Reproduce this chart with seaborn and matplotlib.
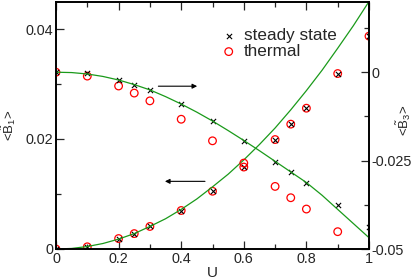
import matplotlib
matplotlib.use("Agg")
import numpy as np
import pandas as pd
import matplotlib.pyplot as plt
import seaborn as sns
from matplotlib.ticker import MultipleLocator, FuncFormatter

# values
u_steady = [0, 0.1, 0.2, 0.25, 0.3, 0.4, 0.5, 0.6, 0.7, 0.75, 0.8, 0.9, 1.0]
b1_steady = [0, 0.0004, 0.0019, 0.0028, 0.0041, 0.0070, 0.0105, 0.0149,
             0.0199, 0.0227, 0.0256, 0.0319, 0.0387]
b1_thermal = [0, 0.0004, 0.0019, 0.0028, 0.0041, 0.0070, 0.0105, 0.0149,
              0.0199, 0.0227, 0.0256, 0.0319, 0.0387]
b3_steady = [0, -0.0003, -0.0023, -0.0036, -0.0051, -0.0091, -0.0138, -0.0194,
             -0.0253, -0.0283, -0.0313, -0.0376, -0.0439]
u_thermal3 = [0, 0.1, 0.2, 0.25, 0.3, 0.4, 0.5, 0.6, 0.7, 0.75, 0.8, 0.9]
b3_thermal = [0, -0.0011, -0.0039, -0.0059, -0.0081, -0.0133, -0.0194, -0.0257,
              -0.0323, -0.0355, -0.0387, -0.0451]

# green reference curves
u_curve = [0, 0.05, 0.1, 0.15, 0.2, 0.25, 0.3, 0.35, 0.4, 0.45, 0.5,
           0.55, 0.6, 0.65, 0.7, 0.75, 0.8, 0.85, 0.9, 0.95, 1.0]
b1_curve = [0, 0.0001, 0.00045, 0.001, 0.0018, 0.0028, 0.0041, 0.0055, 0.0072,
            0.0091, 0.0113, 0.0136, 0.0162, 0.019, 0.022, 0.0253, 0.0288,
            0.0325, 0.0365, 0.0406, 0.045]
b3_curve = [0, -0.0001, -0.0005, -0.0012, -0.0022, -0.0035, -0.0050, -0.0069,
            -0.0090, -0.0113, -0.0138, -0.0165, -0.0193, -0.0222, -0.0252,
            -0.0282, -0.0312, -0.0348, -0.0388, -0.0428, -0.0468]

sns.set_style("ticks")
plt.rcParams['font.family'] = ['Liberation Sans', 'DejaVu Sans']
plt.rcParams['mathtext.fontset'] = 'custom'
plt.rcParams['mathtext.rm'] = 'Liberation Sans'
plt.rcParams['mathtext.it'] = 'Liberation Sans:italic'
plt.rcParams['axes.unicode_minus'] = False

fig = plt.figure(figsize=(4.15, 2.79), dpi=100)
ax = fig.add_axes([56 / 415, 1 - 249 / 279, 313 / 415, 247.5 / 279])
ax2 = ax.twinx()

green = "#1a9a1a"
sns.lineplot(x=u_curve, y=b1_curve, ax=ax, color=green, lw=0.9)
sns.lineplot(x=u_curve, y=b3_curve, ax=ax2, color=green, lw=0.9)

circ = dict(marker="o", s=30, facecolors="none", edgecolors="red", linewidths=0.9)
crs = dict(marker="x", s=14, color="black", linewidths=0.8)

sns.scatterplot(x=u_steady, y=b1_thermal, ax=ax, **circ)
sns.scatterplot(x=u_steady, y=b1_steady, ax=ax, **crs)
sns.scatterplot(x=u_thermal3, y=b3_thermal, ax=ax2, label="thermal", **circ)
sns.scatterplot(x=u_steady, y=b3_steady, ax=ax2, label="steady state", **crs)

ax.set_xlim(0, 1)
ax.set_ylim(0, 0.045)
ax2.set_ylim(-0.05, 0.02)

fmt = FuncFormatter(lambda v, p: "%g" % round(v, 4))
ax.xaxis.set_major_locator(MultipleLocator(0.2))
ax.xaxis.set_minor_locator(MultipleLocator(0.1))
ax.yaxis.set_major_locator(MultipleLocator(0.02))
ax.yaxis.set_minor_locator(MultipleLocator(0.01))
ax2.yaxis.set_major_locator(MultipleLocator(0.025))
ax2.yaxis.set_minor_locator(MultipleLocator(0.0125))
ax.xaxis.set_major_formatter(fmt)
ax.yaxis.set_major_formatter(fmt)
ax2.yaxis.set_major_formatter(fmt)

ax.tick_params(axis="x", which="both", direction="in", top=True, labelsize=10.4, pad=2)
ax.tick_params(axis="y", which="both", direction="in", labelsize=10.4, pad=2)
ax2.tick_params(axis="y", which="both", direction="in", labelsize=10.4, pad=2)
for a in (ax, ax2):
    a.tick_params(which="major", length=6, width=0.9)
    a.tick_params(which="minor", length=3.5, width=0.9)
    for sp in a.spines.values():
        sp.set_visible(True)
        sp.set_linewidth(1.2)
        sp.set_color("black")

ax.set_xlabel("U", fontsize=11, labelpad=0)
ax.set_ylabel(r"<$\tilde{\mathrm{B}}_1$>", fontsize=9.5)
ax2.set_ylabel(r"<$\tilde{\mathrm{B}}_3$>", fontsize=9.5, rotation=90)
ax.yaxis.set_label_coords(-0.122, 0.5)
ax2.yaxis.set_label_coords(1.08, 0.52)

# arrows pointing to the axis each curve belongs to
ax.annotate("", xy=(0.451, 0.0296), xytext=(0.327, 0.0296),
            arrowprops=dict(arrowstyle="-|>", color="black", lw=0.8,
                            mutation_scale=7, shrinkA=0, shrinkB=0))
ax.annotate("", xy=(0.348, 0.0123), xytext=(0.476, 0.0123),
            arrowprops=dict(arrowstyle="-|>", color="black", lw=0.8,
                            mutation_scale=7, shrinkA=0, shrinkB=0))

h, l = ax2.get_legend_handles_labels()
order = [l.index("steady state"), l.index("thermal")]
ax2.legend([h[i] for i in order], [l[i] for i in order],
           loc="upper left", bbox_to_anchor=(0.530, 0.892), frameon=False,
           fontsize=12.3, borderpad=0, borderaxespad=0, handlelength=0.8,
           handletextpad=0.5, labelspacing=0.05)

fig.savefig("out.png", dpi=100)
